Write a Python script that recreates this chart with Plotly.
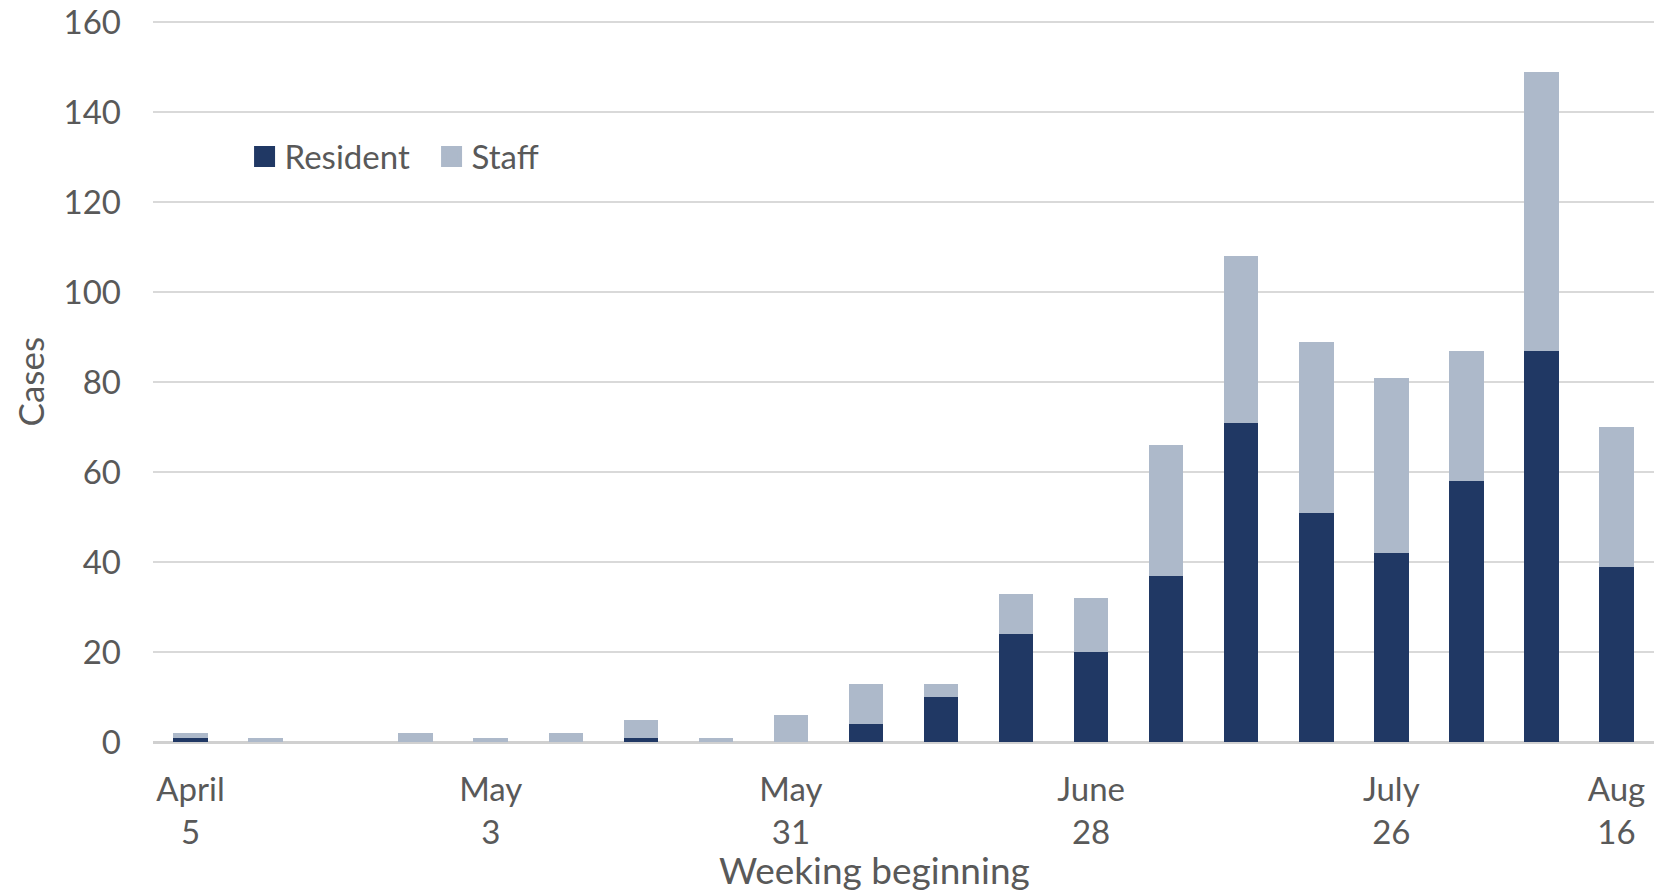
import plotly.graph_objects as go

weeks = ["Apr 5", "Apr 12", "Apr 19", "Apr 26", "May 3", "May 10", "May 17", "May 24",
         "May 31", "Jun 7", "Jun 14", "Jun 21", "Jun 28", "Jul 5", "Jul 12", "Jul 19",
         "Jul 26", "Aug 2", "Aug 9", "Aug 16"]
resident = [1, 0, 0, 0, 0, 0, 1, 0, 0, 4, 10, 24, 20, 37, 71, 51, 42, 58, 87, 39]
staff = [1, 1, 0, 2, 1, 2, 4, 1, 6, 9, 3, 9, 12, 29, 37, 38, 39, 29, 62, 31]

tick_weeks = ["Apr 5", "May 3", "May 31", "Jun 28", "Jul 26", "Aug 16"]
tick_text = ["April<br>5", "May<br>3", "May<br>31", "June<br>28", "July<br>26", "Aug<br>16"]
y_ticks = [0, 20, 40, 60, 80, 100, 120, 140, 160]

RES_COLOR = "#203864"
STAFF_COLOR = "#adb9ca"
TEXT = "#595959"
FONT = "Lato"

fig = go.Figure()
fig.add_trace(go.Bar(x=weeks, y=resident, name="Resident", marker_color=RES_COLOR,
                     marker_line_width=0, showlegend=False))
fig.add_trace(go.Bar(x=weeks, y=staff, name="Staff", marker_color=STAFF_COLOR,
                     marker_line_width=0, showlegend=False))
# legend entries with large square swatches
fig.add_trace(go.Scatter(x=[None], y=[None], mode="markers", name="Resident",
                         marker=dict(symbol="square", size=16, color=RES_COLOR,
                                     line=dict(color=RES_COLOR, width=5))))
fig.add_trace(go.Scatter(x=[None], y=[None], mode="markers", name="Staff",
                         marker=dict(symbol="square", size=16, color=STAFF_COLOR,
                                     line=dict(color=STAFF_COLOR, width=5))))

fig.update_layout(
    width=1654, height=893,
    barmode="stack", bargap=0.54,
    plot_bgcolor="white", paper_bgcolor="white",
    margin=dict(l=153, r=0, t=21, b=151, autoexpand=False),
    font=dict(family=FONT, size=33, color=TEXT),
    legend=dict(orientation="h", traceorder="normal", x=0.061, y=0.812,
                xanchor="left", yanchor="middle",
                font=dict(size=33, color=TEXT), bgcolor="rgba(0,0,0,0)",
                itemwidth=30, tracegroupgap=0, entrywidth=142),
    xaxis=dict(range=[-0.5, 19.5], tickmode="array", tickvals=tick_weeks, ticktext=tick_text,
               showgrid=False, showline=False, zeroline=False, ticks="",
               ticklabelstandoff=25, tickfont=dict(size=33, color=TEXT)),
    yaxis=dict(range=[0, 160.3], tickvals=y_ticks, showgrid=True, gridcolor="#d9d9d9",
               gridwidth=2, zeroline=True, zerolinecolor="#d0d0d0", zerolinewidth=3,
               showline=False, ticks="", ticklabelstandoff=31,
               tickfont=dict(size=33, color=TEXT)),
    annotations=[
        dict(text="Weeking beginning", xref="paper", yref="paper", x=0.481, y=-0.177,
             xanchor="center", yanchor="middle", showarrow=False,
             font=dict(size=37, color=TEXT, family=FONT)),
        dict(text="Cases", xref="paper", yref="paper", x=-0.082, y=0.5, textangle=-90,
             xanchor="center", yanchor="middle", showarrow=False,
             font=dict(size=35, color=TEXT, family=FONT)),
    ],
)

fig.write_html("out.html", config={"displayModeBar": False},
               post_script="document.body.style.margin='0';document.body.style.overflow='hidden';")
